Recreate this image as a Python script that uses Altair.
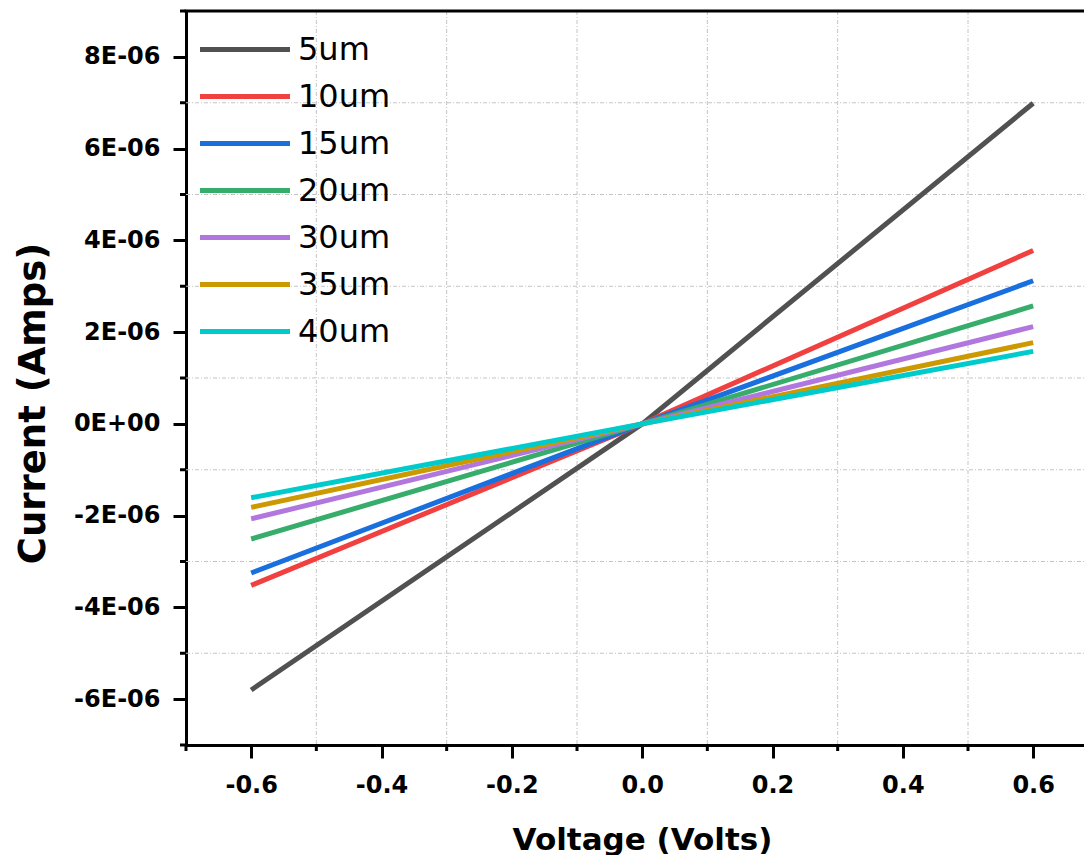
import json
import altair as alt
import pandas as pd

# ---------------- data ----------------
voltage = [-0.6, 0.0, 0.6]
series = ["5um", "10um", "15um", "20um", "30um", "35um", "40um"]
current_5um = [-5.80e-6, 0.0, 6.99e-6]
current_10um = [-3.52e-6, 0.0, 3.78e-6]
current_15um = [-3.25e-6, 0.0, 3.12e-6]
current_20um = [-2.51e-6, 0.0, 2.57e-6]
current_30um = [-2.07e-6, 0.0, 2.12e-6]
current_35um = [-1.82e-6, 0.0, 1.77e-6]
current_40um = [-1.61e-6, 0.0, 1.58e-6]
colors = ["#515151", "#F14040", "#1A6FDF", "#37AD6B", "#B177DE", "#CC9900", "#00CBCC"]

x_tick_values = [-0.6, -0.4, -0.2, 0.0, 0.2, 0.4, 0.6]
x_tick_labels = ["-0.6", "-0.4", "-0.2", "0.0", "0.2", "0.4", "0.6"]
y_tick_values = [-6e-6, -4e-6, -2e-6, 0.0, 2e-6, 4e-6, 6e-6, 8e-6]
y_tick_labels = ["-6E-06", "-4E-06", "-2E-06", "0E+00", "2E-06", "4E-06", "6E-06", "8E-06"]
x_minor = [-0.7, -0.5, -0.3, -0.1, 0.1, 0.3, 0.5]
y_minor = [-7e-6, -5e-6, -3e-6, -1e-6, 1e-6, 3e-6, 5e-6, 7e-6, 9e-6]
x_grid = [-0.5, -0.3, -0.1, 0.1, 0.3, 0.5]
y_grid = [-5e-6, -3e-6, -1e-6, 1e-6, 3e-6, 5e-6, 7e-6]

# ---------------- build table ----------------
all_currents = [current_5um, current_10um, current_15um, current_20um,
                current_30um, current_35um, current_40um]
rows = []
for order, (name, cur) in enumerate(zip(series, all_currents)):
    for v, i in zip(voltage, cur):
        rows.append({"V": v, "I": i, "Width": name, "order": order})
df = pd.DataFrame(rows)

W, H = 898, 734
FONT = "DejaVu Sans"
xscale = alt.Scale(domain=[-0.7, 0.678], nice=False, zero=False)
yscale = alt.Scale(domain=[-7e-6, 9e-6], nice=False, zero=False)

x_label_expr = json.dumps(x_tick_labels).replace('"', "'") + "[round(datum.value*5)+3]"
y_label_expr = json.dumps(y_tick_labels).replace('"', "'") + "[round(datum.value*500000)+3]"

xaxis = alt.Axis(
    values=x_tick_values, labelExpr=x_label_expr, grid=False,
    tickSize=13, tickWidth=3, tickColor="black",
    domainWidth=3, domainColor="black",
    labelFont=FONT, labelFontWeight="bold", labelFontSize=24, labelColor="black",
    labelPadding=15, labelFlush=False,
    title="Voltage (Volts)", titleFont=FONT, titleFontWeight="bold",
    titleFontSize=31, titleColor="black",
    titleX=456, titleY=104, titleAlign="center", titleBaseline="alphabetic")
yaxis = alt.Axis(
    values=y_tick_values, labelExpr=y_label_expr, grid=False,
    tickSize=13, tickWidth=3, tickColor="black",
    domainWidth=3, domainColor="black",
    labelFont=FONT, labelFontWeight="bold", labelFontSize=24, labelColor="black",
    labelPadding=13, labelFlush=False,
    title="Current (Amps)", titleFont=FONT, titleFontWeight="bold",
    titleFontSize=37, titleColor="black", titleAngle=270,
    titleX=-153, titleY=392, titleAlign="center", titleBaseline="middle")

grid_style = dict(color="#c4c4c4", strokeWidth=1, strokeDash=[4, 2, 1, 2])

vgrid = alt.Chart(pd.DataFrame({"V": x_grid})).mark_rule(**grid_style).encode(
    x=alt.X("V:Q", scale=xscale, axis=xaxis), y=alt.value(0), y2=alt.value(H))
hgrid = alt.Chart(pd.DataFrame({"I": y_grid})).mark_rule(**grid_style).encode(
    y=alt.Y("I:Q", scale=yscale, axis=yaxis), x=alt.value(0), x2=alt.value(W))

lines = alt.Chart(df).mark_line(strokeWidth=5, strokeCap="butt").encode(
    x=alt.X("V:Q", scale=xscale, axis=xaxis),
    y=alt.Y("I:Q", scale=yscale, axis=yaxis),
    color=alt.Color("Width:N", scale=alt.Scale(domain=series, range=colors),
                    legend=alt.Legend(
                        title=None, orient="none", legendX=11.5, legendY=16,
                        symbolType="stroke", symbolSize=8100, symbolStrokeWidth=5,
                        clipHeight=45, rowPadding=2, padding=0, labelOffset=5.5,
                        labelFont=FONT, labelFontSize=32, labelColor="black")),
    order=alt.Order("order:Q"),
    detail="Width:N",
)

frame = alt.Chart(pd.DataFrame({"a": [0]})).mark_rule(color="black", strokeWidth=3).encode(
    x=alt.value(-1.5), x2=alt.value(W), y=alt.value(0))

xminor = alt.Chart(pd.DataFrame({"V": x_minor})).mark_rule(color="black", strokeWidth=3).encode(
    x=alt.X("V:Q", scale=xscale, axis=xaxis), y=alt.value(H), y2=alt.value(H + 6))
yminor = alt.Chart(pd.DataFrame({"I": y_minor})).mark_rule(color="black", strokeWidth=3).encode(
    y=alt.Y("I:Q", scale=yscale, axis=yaxis), x=alt.value(-6), x2=alt.value(0))

chart = alt.layer(vgrid, hgrid, lines, frame, xminor, yminor).properties(
    width=W, height=H,
    autosize=alt.AutoSizeParams(type="none"),
    padding={"left": 178, "top": 3, "right": 0, "bottom": 110},
).configure_view(stroke=None).configure(background="white")

chart.save("out.html", embed_options={"renderer": "svg", "actions": False})
